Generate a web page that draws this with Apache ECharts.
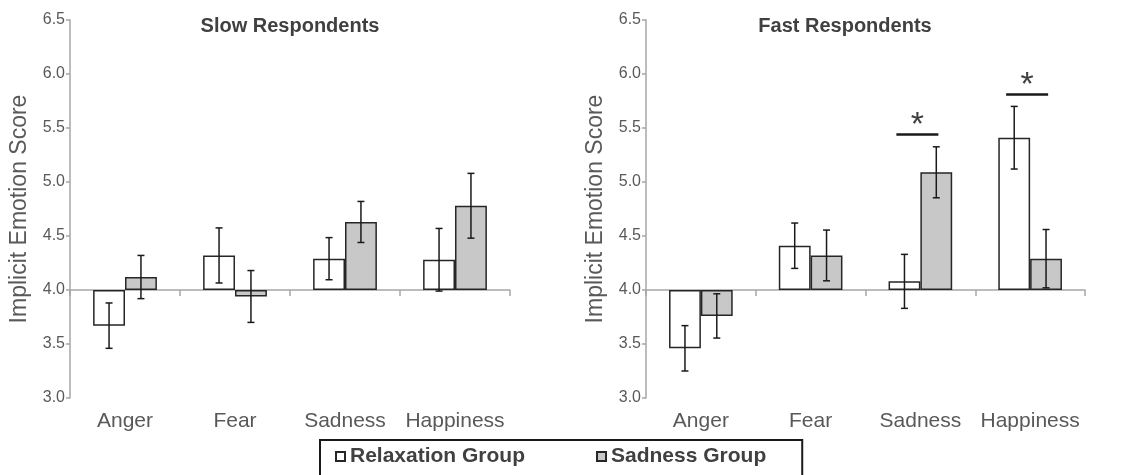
<!DOCTYPE html>
<html>
<head>
<meta charset="utf-8">
<script src="https://cdn.jsdelivr.net/npm/echarts@6/dist/echarts.min.js"></script>
<style>html,body{margin:0;padding:0;background:#fff;}#c{width:1125px;height:475px;}</style>
</head>
<body>
<div id="c"></div>
<script>
const categories = ['Anger', 'Fear', 'Sadness', 'Happiness'];
const yTicks = ['3.0','3.5','4.0','4.5','5.0','5.5','6.0','6.5'];
const baseline = 4.0;

const slowRelax = [3.67, 4.32, 4.29, 4.28];
const slowRelaxErr = [0.21, 0.255, 0.195, 0.29];
const slowSad = [4.12, 3.94, 4.63, 4.78];
const slowSadErr = [0.20, 0.24, 0.19, 0.30];

const fastRelax = [3.46, 4.41, 4.08, 5.41];
const fastRelaxErr = [0.21, 0.21, 0.25, 0.29];
const fastSad = [3.76, 4.32, 5.09, 4.29];
const fastSadErr = [0.205, 0.235, 0.236, 0.27];

// significance markers (Fast respondents): category index, line level
const sigCats = [2, 3];
const sigLevels = [5.44, 5.81];

const FONT = '"Liberation Sans", Arial, Helvetica, sans-serif';
const AXIS_COLOR = '#a6a6a6';
const TEXT_COLOR = '#595959';
const CAT_GAP = 0.42;

const chart = echarts.init(document.getElementById('c'), null, {renderer: 'canvas'});

function xAxesFor(grid) {
  return [
    {
      type: 'category', gridIndex: grid, data: categories, position: 'bottom',
      axisLine: {show: true, onZero: true, lineStyle: {color: AXIS_COLOR, width: 1.5}},
      axisTick: {show: true, length: 6, interval: 0, lineStyle: {color: AXIS_COLOR, width: 1.5}},
      axisLabel: {show: false}, splitLine: {show: false}
    },
    {
      type: 'category', gridIndex: grid, data: categories, position: 'bottom',
      axisLine: {show: false, onZero: false}, axisTick: {show: false},
      axisLabel: {show: true, interval: 0, fontSize: 21, color: TEXT_COLOR, fontFamily: FONT, margin: 13},
      splitLine: {show: false}
    }
  ];
}

function yAxisFor(grid) {
  return {
    type: 'value', gridIndex: grid,
    min: 3.0 - baseline, max: 6.5 - baseline, interval: 0.5,
    axisLine: {show: true, lineStyle: {color: AXIS_COLOR, width: 1.5}},
    axisTick: {show: true, length: 4, lineStyle: {color: AXIS_COLOR, width: 1.5}},
    axisLabel: {
      fontSize: 16, color: TEXT_COLOR, fontFamily: FONT, margin: 5,
      formatter: v => yTicks[Math.round((v + baseline - 3.0) / 0.5)]
    },
    splitLine: {show: false},
    name: 'Implicit Emotion Score', nameLocation: 'middle', nameGap: 39,
    nameTextStyle: {fontSize: 23, color: TEXT_COLOR, fontFamily: FONT}
  };
}

function barSeries(name, vals, xi, yi, fill) {
  return {
    type: 'bar', name: name, xAxisIndex: xi, yAxisIndex: yi,
    data: vals.map(v => +(v - baseline).toFixed(4)),
    barGap: '0%', barCategoryGap: (CAT_GAP * 100) + '%',
    itemStyle: {color: fill, borderColor: '#262626', borderWidth: 1.5},
    emphasis: {disabled: true}, z: 2
  };
}

function errSeries(vals, errs, xi, yi, side) {
  return {
    type: 'custom', xAxisIndex: xi, yAxisIndex: yi, silent: true, z: 5,
    data: vals.map((v, i) => [i, v - errs[i] - baseline, v + errs[i] - baseline]),
    renderItem: function (params, api) {
      const bw = api.size([1, 0])[0];
      const barW = bw * (1 - CAT_GAP) / 2;
      const off = side * barW / 2;
      const lo = api.coord([api.value(0), api.value(1)]);
      const hi = api.coord([api.value(0), api.value(2)]);
      const x = lo[0] + off;
      const cap = 3.5;
      const st = {stroke: '#1a1a1a', lineWidth: 1.5};
      return {
        type: 'group', children: [
          {type: 'line', shape: {x1: x, y1: lo[1], x2: x, y2: hi[1]}, style: st},
          {type: 'line', shape: {x1: x - cap, y1: lo[1], x2: x + cap, y2: lo[1]}, style: st},
          {type: 'line', shape: {x1: x - cap, y1: hi[1], x2: x + cap, y2: hi[1]}, style: st}
        ]
      };
    }
  };
}

const sigSeries = {
  type: 'custom', xAxisIndex: 2, yAxisIndex: 1, silent: true, z: 6,
  data: sigCats.map((c, i) => [c, sigLevels[i] - baseline]),
  renderItem: function (params, api) {
    const p = api.coord([api.value(0), api.value(1)]);
    const half = 21;
    const cx = p[0] - 3;
    return {
      type: 'group', children: [
        {type: 'line', shape: {x1: cx - half, y1: p[1], x2: cx + half, y2: p[1]},
         style: {stroke: '#1a1a1a', lineWidth: 2.5}},
        {type: 'text', x: cx, y: p[1] + 8,
         style: {text: '*', fill: '#404040', font: '34px ' + FONT, align: 'center', verticalAlign: 'bottom'}}
      ]
    };
  }
};

const option = {
  animation: false,
  backgroundColor: '#fff',
  grid: [
    {left: 70, top: 20, width: 440, height: 378, containLabel: false},
    {left: 646, top: 20, width: 439, height: 378, containLabel: false}
  ],
  xAxis: [...xAxesFor(0), ...xAxesFor(1)],
  yAxis: [yAxisFor(0), yAxisFor(1)],
  legend: {
    data: ['Relaxation Group', 'Sadness Group'],
    left: 320, top: 440, orient: 'horizontal',
    padding: [6, 36, 40, 15], itemGap: 71,
    itemWidth: 9, itemHeight: 9, icon: 'rect',
    borderColor: '#1a1a1a', borderWidth: 2,
    textStyle: {fontSize: 21, fontWeight: 'bold', color: '#404040', fontFamily: FONT},
    selectedMode: false
  },
  graphic: [
    {type: 'text', x: 290, y: 16, style: {text: 'Slow Respondents', align: 'center', verticalAlign: 'top', font: 'bold 20px ' + FONT, fill: '#404040'}},
    {type: 'text', x: 845, y: 16, style: {text: 'Fast Respondents', align: 'center', verticalAlign: 'top', font: 'bold 20px ' + FONT, fill: '#404040'}}
  ],
  series: [
    barSeries('Relaxation Group', slowRelax, 0, 0, '#ffffff'),
    barSeries('Sadness Group', slowSad, 0, 0, '#c8c8c8'),
    errSeries(slowRelax, slowRelaxErr, 0, 0, -1),
    errSeries(slowSad, slowSadErr, 0, 0, 1),
    barSeries('Relaxation Group', fastRelax, 2, 1, '#ffffff'),
    barSeries('Sadness Group', fastSad, 2, 1, '#c8c8c8'),
    errSeries(fastRelax, fastRelaxErr, 2, 1, -1),
    errSeries(fastSad, fastSadErr, 2, 1, 1),
    sigSeries
  ]
};
chart.setOption(option);
</script>
</body>
</html>
